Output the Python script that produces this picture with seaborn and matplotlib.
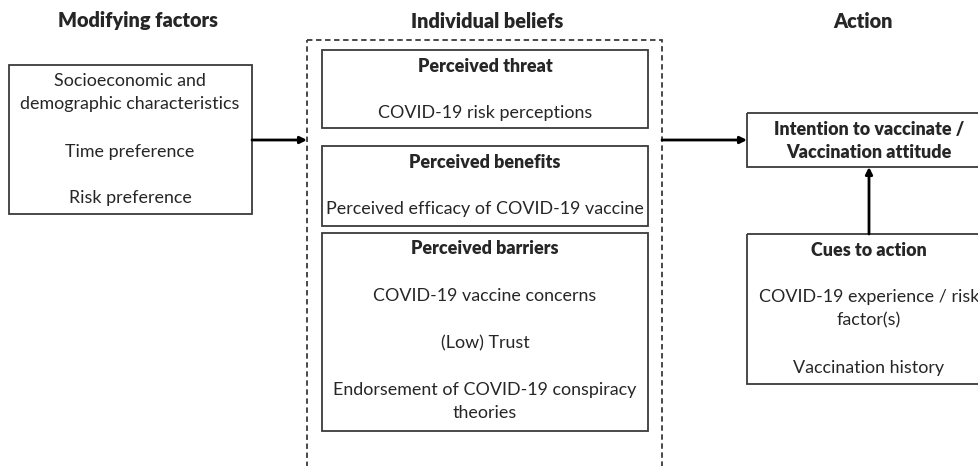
import matplotlib
matplotlib.use("Agg")
import matplotlib.pyplot as plt
import seaborn as sns
from matplotlib.patches import Rectangle

# column headings
headings = ["Modifying factors", "Individual beliefs", "Action"]

# left box
modifying_lines = ["Socioeconomic and", "demographic characteristics", "", "Time preference", "", "Risk preference"]

# individual beliefs boxes: (title, lines)
belief_titles = ["Perceived threat", "Perceived benefits", "Perceived barriers"]
belief_lines = [
    ["COVID-19 risk perceptions"],
    ["Perceived efficacy of COVID-19 vaccine"],
    ["COVID-19 vaccine concerns", "", "(Low) Trust", "", "Endorsement of COVID-19 conspiracy", "theories"],
]

# action side
intention_lines = ["Intention to vaccinate /", "Vaccination attitude"]
cues_title = "Cues to action"
cues_lines = ["COVID-19 experience / risk", "factor(s)", "", "Vaccination history"]

sns.set_style("white")
plt.rcParams["font.family"] = ["Lato", "DejaVu Sans"]

W, H = 979, 466
fig = plt.figure(figsize=(W / 100, H / 100), dpi=100)
ax = fig.add_axes([0, 0, 1, 1])
ax.set_xlim(0, W)
ax.set_ylim(H, 0)
ax.axis("off")

edge = "#3a3a3a"
fs = 12.9
lh = 23.5


def box(x0, y0, x1, y1, ls="-"):
    ax.add_patch(Rectangle((x0, y0), x1 - x0, y1 - y0, fill=False,
                           ec=edge, lw=1.3, ls=ls, clip_on=False))


def lines(cx, y, items, bold_first=None):
    if bold_first:
        ax.text(cx, y, bold_first, ha="center", va="center", fontsize=fs, fontweight="heavy")
        y += 47
    for t in items:
        if t:
            ax.text(cx, y, t, ha="center", va="center", fontsize=fs)
        y += lh


def arrow(x0, y0, x1, y1):
    ax.annotate("", xy=(x1, y1), xytext=(x0, y0),
                arrowprops=dict(arrowstyle="-|>", color="black", lw=2,
                                mutation_scale=10, shrinkA=0, shrinkB=0))


# headings
for cx, t in zip([138, 487, 863], headings):
    ax.text(cx, 21, t, ha="center", va="center", fontsize=14.3, fontweight="heavy")

# modifying factors
box(9, 65, 252, 214)
lines(130, 81, modifying_lines)

# dashed container
box(307, 40, 662, 490, ls=(0, (3, 2)))

# belief boxes
belief_boxes = [(50, 128), (146, 226), (233, 431)]
for (y0, y1), title, items in zip(belief_boxes, belief_titles, belief_lines):
    box(322, y0, 648, y1)
    lines(485, y0 + 16, items, bold_first=title)

# intention box
box(747, 113, 985, 167)
for i, t in enumerate(intention_lines):
    ax.text(869, 129 + i * 23, t, ha="center", va="center", fontsize=fs, fontweight="heavy")

# cues box
box(747, 234, 985, 384)
lines(869, 250, cues_lines, bold_first=cues_title)

# arrows
arrow(252, 140, 307, 140)
arrow(662, 140, 747, 140)
arrow(869, 234, 869, 167)

fig.savefig("out.png", dpi=100)
